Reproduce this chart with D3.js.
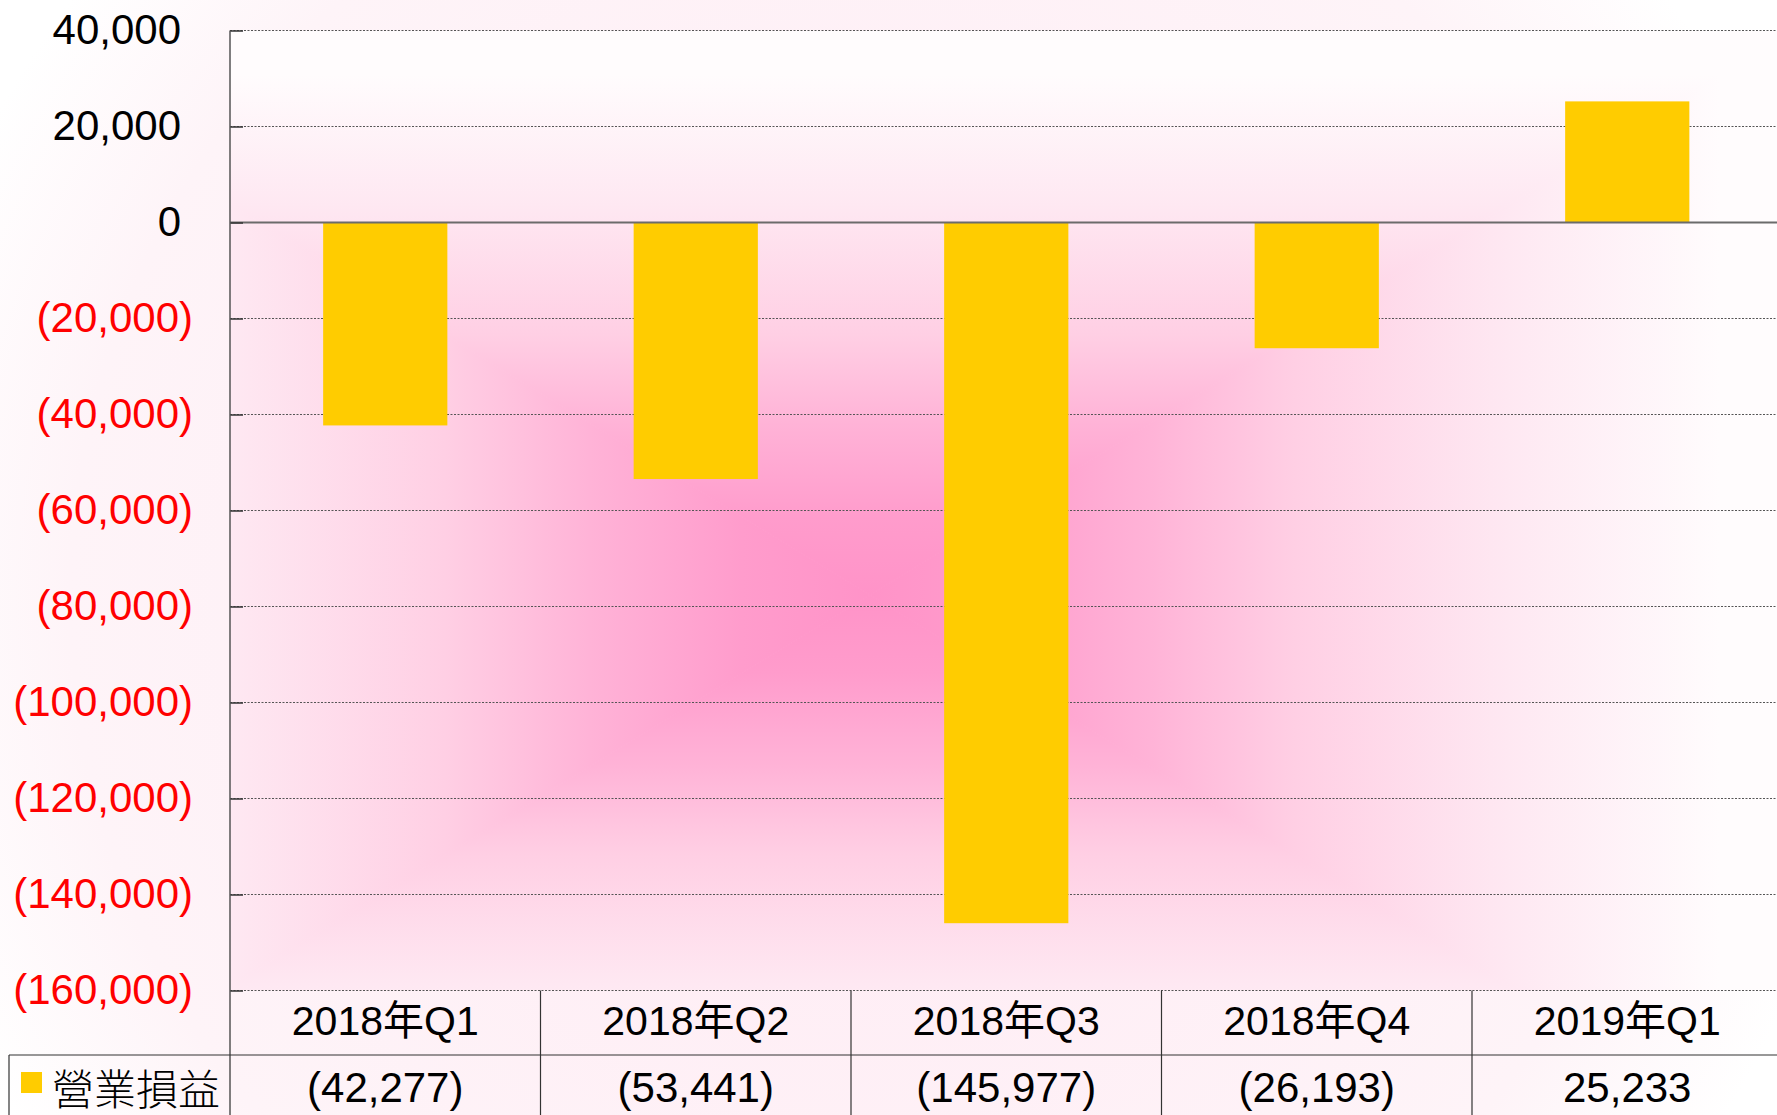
<!DOCTYPE html>
<html>
<head>
<meta charset="utf-8">
<script src="https://cdn.jsdelivr.net/npm/d3@7"></script>
<style>
  body { margin: 0; background: #fff; }
  svg { display: block; }
  text { font-family: "Liberation Sans", Arial, "Noto Sans CJK TC", sans-serif; }
</style>
</head>
<body>
<div id="chart"></div>
<script>
// data
const categories = ["2018年Q1", "2018年Q2", "2018年Q3", "2018年Q4", "2019年Q1"];
const operatingIncome = [-42277, -53441, -145977, -26193, 25233];
const seriesName = "營業損益";
const yTicks = [40000, 20000, 0, -20000, -40000, -60000, -80000, -100000, -120000, -140000, -160000];

const W = 1777, H = 1115;
const plotLeft = 230, plotRight = 1782.5, plotTop = 30.5, plotBottom = 990.5;
const rowLine = 1055;

const svg = d3.select("#chart").append("svg")
    .attr("width", W)
    .attr("height", H);

const defs = svg.append("defs");

// chart area: faint radial wash
const chartGrad = defs.append("radialGradient")
    .attr("id", "chartBg")
    .attr("gradientUnits", "userSpaceOnUse")
    .attr("cx", 870).attr("cy", 600).attr("r", 1000);
[[0, "#ffe9f3"], [0.8, "#fef4f8"], [1, "#ffffff"]].forEach(s => {
    chartGrad.append("stop").attr("offset", s[0]).attr("stop-color", s[1]);
});
svg.append("rect").attr("width", W).attr("height", H).attr("fill", "url(#chartBg)");

// plot area: rectangular "path" gradient built from four triangles
const stops = [[0, "#ff93c8"], [0.15, "#ff9ccc"], [0.26, "#ffaad3"], [0.33, "#ffb3d7"],
               [0.5, "#ffcfe4"], [0.75, "#fee8f2"], [1, "#fffcfd"]];
const cx = 870, cy = 595, ax = 850, by = 520;

defs.append("clipPath").attr("id", "plotClip")
    .append("rect")
    .attr("x", plotLeft).attr("y", plotTop)
    .attr("width", W - plotLeft).attr("height", plotBottom - plotTop);

const tris = [
    { id: "gL", pts: [[cx, cy], [cx - ax, cy - by], [cx - ax, cy + by]], g: [cx, cy, cx - ax, cy] },
    { id: "gR", pts: [[cx, cy], [cx + ax, cy - by], [cx + ax, cy + by]], g: [cx, cy, cx + ax, cy] },
    { id: "gT", pts: [[cx, cy], [cx - ax, cy - by], [cx + ax, cy - by]], g: [cx, cy, cx, cy - by] },
    { id: "gB", pts: [[cx, cy], [cx - ax, cy + by], [cx + ax, cy + by]], g: [cx, cy, cx, cy + by] }
];
tris.forEach(t => {
    const lg = defs.append("linearGradient")
        .attr("id", t.id)
        .attr("gradientUnits", "userSpaceOnUse")
        .attr("x1", t.g[0]).attr("y1", t.g[1])
        .attr("x2", t.g[2]).attr("y2", t.g[3]);
    stops.forEach(s => lg.append("stop").attr("offset", s[0]).attr("stop-color", s[1]));
});

const bg = svg.append("g").attr("clip-path", "url(#plotClip)");
bg.append("rect")
    .attr("x", plotLeft).attr("y", plotTop)
    .attr("width", W - plotLeft).attr("height", plotBottom - plotTop)
    .attr("fill", "#fffcfd");
bg.selectAll("polygon")
    .data(tris)
    .join("polygon")
    .attr("points", d => d.pts.map(p => p.join(",")).join(" "))
    .attr("fill", d => `url(#${d.id})`)
    .attr("stroke", d => `url(#${d.id})`)
    .attr("stroke-width", 1);

const x = d3.scaleBand()
    .domain(categories)
    .range([plotLeft, plotRight])
    .paddingInner(0.6)
    .paddingOuter(0.3);

const y = d3.scaleLinear()
    .domain([-160000, 40000])
    .range([plotBottom, plotTop]);

// gridlines
svg.append("g")
    .selectAll("line")
    .data(yTicks.filter(d => d !== 0))
    .join("line")
    .attr("x1", plotLeft).attr("x2", W)
    .attr("y1", d => y(d)).attr("y2", d => y(d))
    .attr("stroke", "#555")
    .attr("stroke-width", 1)
    .attr("stroke-dasharray", "2,1.5");

// bars
svg.append("g")
    .selectAll("rect")
    .data(operatingIncome)
    .join("rect")
    .attr("x", (d, i) => x(categories[i]))
    .attr("width", x.bandwidth())
    .attr("y", d => y(Math.max(0, d)))
    .attr("height", d => Math.abs(y(d) - y(0)))
    .attr("fill", "#ffcc00");

// zero line
svg.append("line")
    .attr("x1", plotLeft).attr("x2", W)
    .attr("y1", y(0)).attr("y2", y(0))
    .attr("stroke", "#6b6b6b")
    .attr("stroke-width", 2);

// y axis
const fmt = d3.format(",");
const yAxis = d3.axisLeft(y)
    .tickValues(yTicks)
    .tickSizeInner(-13)
    .tickSizeOuter(0)
    .tickPadding(50)
    .tickFormat(d => d < 0 ? "(" + fmt(-d) + ")" : fmt(d));

const yg = svg.append("g")
    .attr("transform", `translate(${plotLeft},0)`)
    .call(yAxis);
yg.select(".domain").remove();
yg.selectAll(".tick line").attr("stroke", "#333").attr("stroke-width", 1.5);
yg.selectAll(".tick text")
    .attr("x", d => d < 0 ? -37 : -49)
    .attr("fill", d => d < 0 ? "#ff0000" : "#000")
    .style("font-size", "42px")
    .style("font-family", "'Liberation Sans', Arial, sans-serif");

svg.append("line")
    .attr("x1", plotLeft).attr("x2", plotLeft)
    .attr("y1", plotTop).attr("y2", H)
    .attr("stroke", "#555")
    .attr("stroke-width", 1.5);

// data table
const table = svg.append("g");
const step = x.step();
const colStarts = categories.map(c => x(c) - step * x.paddingOuter());

table.selectAll(".divider")
    .data(colStarts.slice(1))
    .join("line")
    .attr("class", "divider")
    .attr("x1", d => d).attr("x2", d => d)
    .attr("y1", plotBottom).attr("y2", H)
    .attr("stroke", "#333")
    .attr("stroke-width", 1.2);

table.append("line")
    .attr("x1", 9).attr("x2", W)
    .attr("y1", rowLine).attr("y2", rowLine)
    .attr("stroke", "#333")
    .attr("stroke-width", 1.2);

table.append("line")
    .attr("x1", 9).attr("x2", 9)
    .attr("y1", rowLine).attr("y2", H)
    .attr("stroke", "#333")
    .attr("stroke-width", 1.2);

table.selectAll(".cat")
    .data(categories)
    .join("text")
    .attr("class", "cat")
    .attr("x", d => x(d) + x.bandwidth() / 2)
    .attr("y", 1021)
    .attr("text-anchor", "middle")
    .attr("dominant-baseline", "central")
    .style("font-size", "41px")
    .text(d => d);

table.selectAll(".val")
    .data(operatingIncome)
    .join("text")
    .attr("class", "val")
    .attr("x", (d, i) => x(categories[i]) + x.bandwidth() / 2)
    .attr("y", 1087)
    .attr("text-anchor", "middle")
    .attr("dominant-baseline", "central")
    .style("font-size", "42px")
    .text(d => d < 0 ? "(" + fmt(-d) + ")" : fmt(d));

// legend key
table.append("rect")
    .attr("x", 21).attr("y", 1072)
    .attr("width", 21).attr("height", 21)
    .attr("fill", "#ffcc00");

table.append("text")
    .attr("x", 52)
    .attr("y", 1086)
    .attr("dominant-baseline", "central")
    .style("font-size", "42px")
    .style("font-family", "'Noto Sans CJK TC', sans-serif")
    .style("font-weight", 300)
    .text(seriesName);
</script>
</body>
</html>
